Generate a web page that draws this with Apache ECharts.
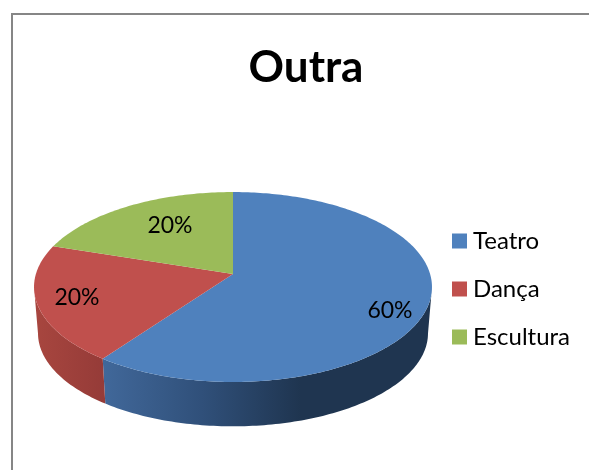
<!DOCTYPE html>
<html>
<head>
<meta charset="utf-8">
<title>Outra</title>
<style>
  html, body { margin: 0; padding: 0; background: #fff; }
  #main { width: 589px; height: 470px; }
</style>
<script src="https://cdn.jsdelivr.net/npm/echarts@6/dist/echarts.min.js"></script>
</head>
<body>
<div id="main"></div>
<script>
// dados
var categories = ['Teatro', 'Dança', 'Escultura'];
var values = [60, 20, 20];
var percentLabels = ['60%', '20%', '20%'];

var topColors = ['#4F81BD', '#C0504D', '#9BBB59'];
var labelSpots = [[390, 311], [77, 298], [170, 226]];

// projecao do disco (perspectiva leve, como o pie 3D do Excel)
var cx = 233, cy = 274, ax = 197.1, ay = 93.2, persp = 0.137;
var wallScale = 0.98, wallDrop = 46.5;

function project(deg, r, scale, drop) {
  var a = deg * Math.PI / 180;
  var u = Math.sin(a) * r, v = Math.cos(a) * r;
  var w = 1 + persp * v;
  return [cx + scale * ax * u / w, cy + drop - scale * ay * v / w];
}

function rim(from, to, scale, drop) {
  var pts = [];
  var steps = Math.max(2, Math.ceil(Math.abs(to - from)));
  for (var i = 0; i <= steps; i++) {
    pts.push(project(from + (to - from) * i / steps, 1, scale, drop));
  }
  return pts;
}

var total = values.reduce(function (a, b) { return a + b; }, 0);
var sum = 0;
var ranges = values.map(function (v) {
  var start = sum / total * 360;
  sum += v;
  return [start, sum / total * 360];
});

// lateral visivel: entre os pontos extremos da elipse (98 e 262 graus)
function wallPoints(idx) {
  var from = Math.max(ranges[idx][0], 98);
  var to = Math.min(ranges[idx][1], 262);
  return rim(from, to, 1, 0).concat(rim(to, from, wallScale, wallDrop));
}

var wallFills = [
  new echarts.graphic.LinearGradient(0, 0, 1, 0, [
    { offset: 0, color: '#41689A' },
    { offset: 0.3, color: '#30507A' },
    { offset: 0.6, color: '#1F3550' },
    { offset: 1, color: '#1F3550' }
  ]),
  new echarts.graphic.LinearGradient(0, 0, 1, 0, [
    { offset: 0, color: '#A8463F' },
    { offset: 1, color: '#953B38' }
  ]),
  null
];

var series = [];

categories.forEach(function (name, idx) {
  if (!wallFills[idx]) return;
  series.push({
    name: name + ' (lado)',
    type: 'custom',
    coordinateSystem: 'none',
    silent: true,
    z: 1,
    data: [values[idx]],
    renderItem: function () {
      return {
        type: 'polygon',
        shape: { points: wallPoints(idx) },
        style: { fill: wallFills[idx] }
      };
    }
  });
});

categories.forEach(function (name, idx) {
  series.push({
    name: name,
    type: 'custom',
    coordinateSystem: 'none',
    silent: true,
    z: 2,
    itemStyle: { color: topColors[idx] },
    data: [values[idx]],
    renderItem: function () {
      var pts = [project(0, 0, 1, 0)].concat(rim(ranges[idx][0], ranges[idx][1], 1, 0));
      return {
        type: 'group',
        children: [{
          type: 'polygon',
          shape: { points: pts },
          style: { fill: topColors[idx] }
        }, {
          type: 'text',
          z2: 10,
          x: labelSpots[idx][0],
          y: labelSpots[idx][1],
          style: {
            text: percentLabels[idx],
            fill: '#000',
            font: '23px Lato',
            align: 'center',
            verticalAlign: 'middle'
          }
        }]
      };
    }
  });
});

var chart = echarts.init(document.getElementById('main'), null, { renderer: 'canvas' });

chart.setOption({
  animation: false,
  backgroundColor: '#fff',
  title: {
    text: 'Outra',
    left: 301,
    top: 41,
    textAlign: 'center',
    textStyle: { fontFamily: 'Lato', fontWeight: 'bold', fontSize: 44, color: '#000' }
  },
  legend: {
    data: categories,
    orient: 'vertical',
    left: 447,
    top: 224,
    icon: 'rect',
    itemWidth: 15,
    itemHeight: 15,
    itemGap: 24,
    selectedMode: false,
    textStyle: { fontFamily: 'Lato', fontSize: 24, color: '#000', padding: [0, 0, 0, 1], lineHeight: 24 }
  },
  graphic: [{
    type: 'rect',
    silent: true,
    shape: { x: 12, y: 14, width: 600, height: 500 },
    style: { fill: 'none', stroke: '#868686', lineWidth: 2 }
  }],
  series: series
});
</script>
</body>
</html>
